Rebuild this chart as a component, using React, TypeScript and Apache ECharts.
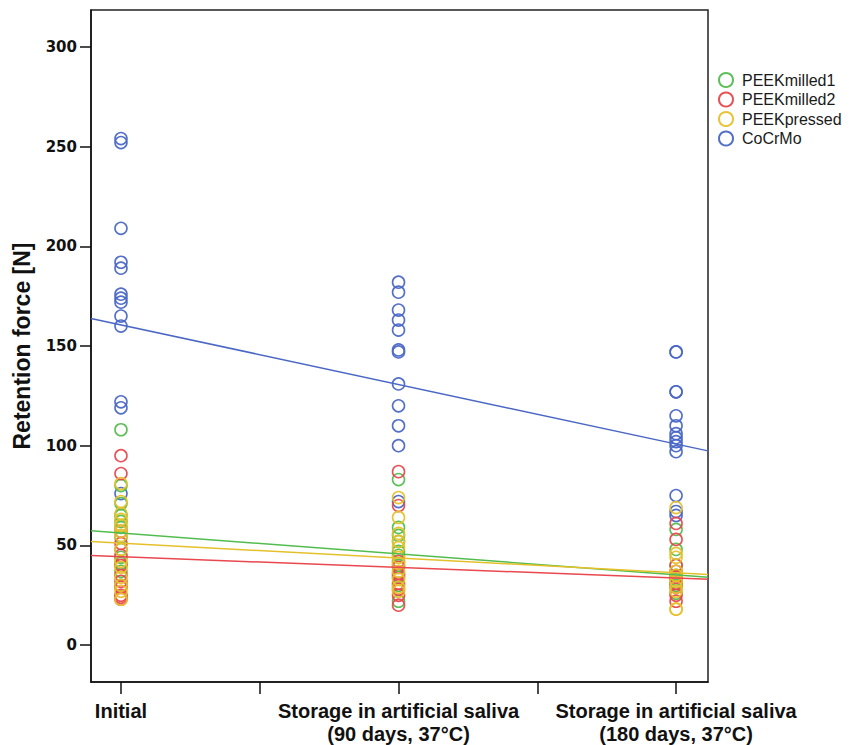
import React, { useEffect, useRef } from "react";
import * as echarts from "echarts";

const categories = [
  "Initial",
  "Storage in artificial saliva\n(90 days, 37°C)",
  "Storage in artificial saliva\n(180 days, 37°C)",
];
const groupNames = ["PEEKmilled1", "PEEKmilled2", "PEEKpressed", "CoCrMo"];
const groupColors = ["#52bd4f", "#e8484e", "#e6c02a", "#4a67c5"];

// values per time point (Initial, 90 days, 180 days)
const peekMilled1 = [
  [108, 80, 71, 65, 62, 59, 54, 48, 44, 41, 37, 30],
  [83, 59, 55, 52, 47, 45, 40, 34, 30, 22],
  [58, 48, 40, 35, 33, 30, 26],
];
const peekMilled2 = [
  [95, 86, 57, 51, 45, 40, 35, 32, 29, 25, 24, 23],
  [87, 70, 42, 39, 36, 35, 31, 28, 25, 20],
  [61, 53, 40, 37, 34, 31, 29, 25, 22],
];
const peekPressed = [
  [81, 72, 66, 63, 60, 57, 55, 48, 42, 39, 34, 30, 27, 23],
  [74, 64, 56, 52, 49, 44, 41, 37, 33, 29, 27],
  [69, 46, 44, 37, 35, 32, 29, 27, 18, 18],
];
const coCrMo = [
  [254, 252, 209, 192, 189, 176, 174, 172, 165, 160, 122, 119, 76],
  [182, 177, 168, 163, 158, 148, 147, 131, 120, 110, 100, 72],
  [147, 147, 127, 127, 115, 110, 106, 104, 102, 100, 97, 75, 67, 65],
];
const groupValues = [peekMilled1, peekMilled2, peekPressed, coCrMo];

// fit line values at left and right edges of the plot
const fitLeft = [57.4, 44.9, 51.9, 163.8];
const fitRight = [34.0, 33.0, 35.4, 97.4];

const yTicks = [0, 50, 100, 150, 200, 250, 300];
const xTicks = [0, 0.5, 1, 1.5, 2];
const xLabelPositions = [0, 1, 2];

const X_MIN = -0.108;
const X_MAX = 2.115;
const Y_MIN = -18.5;
const Y_MAX = 318.5;

export default function App() {
  const ref = useRef<HTMLDivElement>(null);
  useEffect(() => {
    document.body.style.margin = "0";
    if (!ref.current) return;
    const chart = echarts.init(ref.current, null, { renderer: "svg" });

    const scatterOrder = [3, 0, 1, 2];
    const scatterSeries = scatterOrder.map((g) => {
      const pts: number[][] = [];
      groupValues[g].forEach((vals, t) => vals.forEach((v) => pts.push([t, v])));
      return {
        name: groupNames[g],
        type: "scatter",
        symbol: "circle",
        symbolSize: 12,
        data: pts,
        itemStyle: {
          color: "rgba(255,255,255,0)",
          borderColor: groupColors[g],
          borderWidth: 1.6,
          opacity: 0.95,
        },
        z: 2,
      };
    });
    const lineSeries = groupNames.map((n, g) => ({
      name: n + " fit",
      type: "line",
      data: [
        [X_MIN, fitLeft[g]],
        [X_MAX, fitRight[g]],
      ],
      showSymbol: false,
      symbol: "none",
      silent: true,
      lineStyle: { color: groupColors[g], width: 1.5 },
      z: 3,
    }));

    chart.setOption({
      animation: false,
      backgroundColor: "#ffffff",
      grid: {
        left: 91,
        top: 10,
        width: 617,
        height: 675,
        show: true,
        borderColor: "#222",
        borderWidth: 1.5,
        backgroundColor: "transparent",
      },
      legend: {
        data: groupNames,
        orient: "vertical",
        left: 713,
        top: 67,
        itemWidth: 22,
        itemHeight: 14,
        itemGap: 3.5,
        symbolKeepAspect: true,
        textStyle: {
          fontFamily: "Liberation Sans, Arial, sans-serif",
          fontSize: 16,
          color: "#1a1a1a",
        },
      },
      xAxis: {
        type: "value",
        min: X_MIN,
        max: X_MAX,
        splitLine: { show: false },
        axisLine: { onZero: false, lineStyle: { color: "#111", width: 1.5 } },
        axisTick: {
          show: true,
          customValues: xTicks,
          length: 12,
          lineStyle: { color: "#111", width: 1.5 },
        },
        axisLabel: {
          customValues: xLabelPositions,
          formatter: (v: number) => categories[Math.round(v)] ?? "",
          fontFamily: "Liberation Sans, Arial, sans-serif",
          fontWeight: "bold",
          fontSize: 20,
          lineHeight: 23,
          color: "#111",
          margin: 17,
          align: "center",
        },
      },
      yAxis: {
        type: "value",
        min: Y_MIN,
        max: Y_MAX,
        name: "Retention force [N]",
        nameLocation: "middle",
        nameGap: 58,
        nameRotate: 90,
        nameTextStyle: {
          fontFamily: "Liberation Sans, Arial, sans-serif",
          fontWeight: "bold",
          fontSize: 23,
          color: "#111",
        },
        splitLine: { show: false },
        axisLine: { show: true, onZero: false, lineStyle: { color: "#111", width: 1.5 } },
        axisTick: {
          show: true,
          customValues: yTicks,
          length: 11,
          lineStyle: { color: "#111", width: 1.5 },
        },
        axisLabel: {
          customValues: yTicks,
          fontFamily: "DejaVu Sans, sans-serif",
          fontWeight: "bold",
          fontSize: 15,
          color: "#111",
          margin: 14,
        },
      },
      series: [...scatterSeries, ...lineSeries],
    });
    return () => chart.dispose();
  }, []);
  return <div ref={ref} style={{ width: 849, height: 745 }} />;
}
